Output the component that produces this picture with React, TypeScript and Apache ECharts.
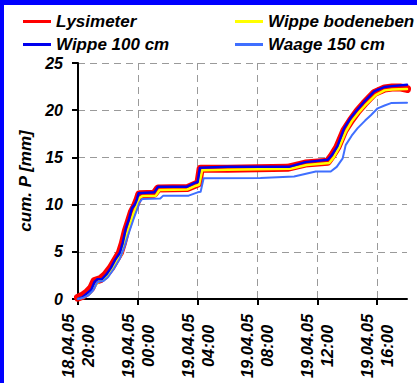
import React, { useEffect, useRef } from "react";
import * as echarts from "echarts";

// x values are hours since 18.04.05 20:00
const tickHours = [0, 4, 8, 12, 16, 20];
const tickDates = ["18.04.05", "19.04.05", "19.04.05", "19.04.05", "19.04.05", "19.04.05"];
const tickTimes = ["20:00", "00:00", "04:00", "08:00", "12:00", "16:00"];

const seriesNames = ["Lysimeter", "Wippe bodeneben", "Wippe 100 cm", "Waage 150 cm"];
const seriesColors = ["#ff0000", "#ffff00", "#0000ee", "#3f6fff"];

const lysHours = [0, 0.3, 0.6, 0.9, 1.1, 1.5, 1.8, 2.2, 2.5, 2.8, 3.0, 3.2, 3.4, 3.6, 3.8, 4.0, 4.1, 5.1, 5.35, 7.3, 7.9, 8.05, 8.2, 10, 12, 14, 15.2, 16.7, 17.0, 17.35, 17.8, 18.24, 18.7, 19.14, 19.8, 20.5, 21, 21.6, 22];
const lysVals = [0.15, 0.35, 0.7, 1.2, 1.9, 2.1, 2.5, 3.3, 4.1, 4.9, 5.9, 7.2, 8.2, 9.2, 9.8, 10.6, 11.1, 11.15, 11.7, 11.75, 12.15, 12.25, 13.8, 13.8, 13.85, 13.9, 14.35, 14.55, 15.2, 16.1, 17.8, 18.9, 19.9, 20.7, 21.8, 22.3, 22.4, 22.4, 22.25];

const wipBodHours = [0, 0.4, 0.8, 1.1, 1.4, 1.7, 2.0, 2.3, 2.6, 2.9, 3.1, 3.3, 3.5, 3.7, 3.9, 4.1, 4.3, 5.2, 5.45, 7.3, 7.9, 8.1, 8.3, 10, 14.2, 15.3, 16.8, 17.1, 17.45, 17.9, 18.3, 18.8, 19.2, 19.9, 20.5, 21, 22];
const wipBodVals = [0, 0.2, 0.6, 1.3, 1.9, 2.0, 2.5, 3.2, 4.0, 4.7, 5.8, 7.0, 8.0, 9.0, 9.8, 10.7, 10.9, 10.95, 11.55, 11.6, 12.0, 12.1, 13.65, 13.7, 13.8, 14.2, 14.4, 15.0, 16.0, 17.7, 18.8, 19.8, 20.5, 21.6, 22.1, 22.2, 22.25];

const wip100Hours = [0, 0.3, 0.6, 0.9, 1.1, 1.3, 1.6, 1.9, 2.2, 2.5, 2.8, 3.0, 3.2, 3.4, 3.6, 3.8, 3.95, 4.05, 5.1, 5.35, 7.3, 7.8, 8.0, 8.15, 10, 14.1, 15.2, 16.7, 17.0, 17.35, 17.8, 18.24, 18.7, 19.14, 19.5, 19.81, 20.1, 20.48, 21, 22];
const wip100Vals = [0, 0.2, 0.6, 1.0, 1.8, 2.1, 2.1, 2.6, 3.3, 4.2, 4.9, 6.0, 7.5, 8.4, 9.6, 10.0, 10.6, 11.2, 11.3, 11.9, 11.9, 12.3, 12.4, 13.9, 14.0, 14.0, 14.5, 14.75, 15.3, 16.2, 18.1, 19.2, 20.1, 20.9, 21.5, 22.0, 22.2, 22.45, 22.55, 22.7];

const waageHours = [0, 0.3, 0.7, 1.0, 1.3, 1.7, 2.0, 2.4, 2.8, 3.1, 3.4, 3.7, 3.95, 4.1, 4.3, 5.5, 5.7, 7.4, 8.0, 8.2, 8.4, 12.2, 14.45, 15.9, 16.9, 17.3, 17.7, 17.9, 18.3, 18.7, 19.2, 19.6, 20.04, 20.5, 20.93, 22];
const waageVals = [0, 0.1, 0.4, 0.9, 1.8, 1.9, 2.3, 3.2, 4.3, 5.5, 7.0, 8.4, 9.5, 10.2, 10.6, 10.65, 10.95, 10.95, 11.3, 11.35, 12.8, 12.82, 12.98, 13.5, 13.5, 14.0, 14.9, 16.3, 17.3, 18.1, 18.9, 19.5, 20.2, 20.5, 20.75, 20.8];

const pair = (xs: number[], ys: number[]) => xs.map((x, i) => [x, ys[i]]);

const FONT = "Arial, 'Liberation Sans', sans-serif";

export default function App() {
  const ref = useRef<HTMLDivElement>(null);
  useEffect(() => {
    document.body.style.margin = "0";
    if (!ref.current) return;
    const chart = echarts.init(ref.current, undefined, { renderer: "svg" });
    const dataSets = [
      pair(lysHours, lysVals),
      pair(wipBodHours, wipBodVals),
      pair(wip100Hours, wip100Vals),
      pair(waageHours, waageVals),
    ];
    const widths = [8, 2.5, 2.5, 2];
    const legendText = {
      fontSize: 17,
      fontWeight: "bold",
      fontStyle: "italic",
      fontFamily: FONT,
      color: "#000",
    };
    const legendCommon = {
      orient: "vertical",
      top: 13,
      padding: 0,
      itemGap: 6,
      itemWidth: 28,
      itemHeight: 3,
      icon: "rect",
      textStyle: legendText,
    };
    chart.setOption({
      animation: false,
      backgroundColor: "#ffffff",
      grid: { left: 78, right: 13, top: 63, bottom: 84 },
      legend: [
        { ...legendCommon, left: 23, data: [seriesNames[0], seriesNames[2]] },
        { ...legendCommon, left: 235, data: [seriesNames[1], seriesNames[3]] },
      ],
      xAxis: {
        type: "value",
        min: 0,
        max: 22,
        interval: 4,
        axisLine: { lineStyle: { color: "#000", width: 2 } },
        axisTick: {
          show: true,
          length: 6,
          lineStyle: { color: "#000", width: 2 },
          customValues: tickHours,
        },
        splitLine: {
          show: true,
          lineStyle: { color: "#9a9a9a", type: [7, 5], width: 1 },
        },
        axisLabel: {
          customValues: tickHours,
          rotate: 90,
          margin: 14,
          formatter: (v: number) => {
            const i = tickHours.indexOf(v);
            if (i < 0) return "";
            return `{a|${tickDates[i]}}\n{a|${tickTimes[i]}}`;
          },
          rich: {
            a: {
              width: 66,
              align: "center",
              fontSize: 16.5,
              fontWeight: "bold",
              fontStyle: "italic",
              fontFamily: FONT,
              color: "#000",
              lineHeight: 20,
            },
          },
        },
      },
      yAxis: {
        type: "value",
        min: 0,
        max: 25,
        interval: 5,
        name: "cum. P [mm]",
        nameLocation: "middle",
        nameGap: 40,
        nameTextStyle: {
          fontSize: 17,
          fontWeight: "bold",
          fontStyle: "italic",
          fontFamily: FONT,
          color: "#000",
        },
        axisLine: { show: true, lineStyle: { color: "#000", width: 2 } },
        axisTick: { show: true, length: 6, lineStyle: { color: "#000", width: 2 } },
        splitLine: {
          show: true,
          lineStyle: { color: "#9a9a9a", type: [7, 5], width: 1 },
        },
        axisLabel: {
          margin: 15,
          fontSize: 16,
          fontWeight: "bold",
          fontStyle: "italic",
          fontFamily: FONT,
          color: "#000",
        },
      },
      series: dataSets.map((d, i) => ({
        name: seriesNames[i],
        type: "line",
        data: d,
        color: seriesColors[i],
        showSymbol: false,
        symbol: "none",
        z: 2 + i,
        lineStyle: { color: seriesColors[i], width: widths[i], join: "round", cap: "round" },
      })),
      graphic: [
        { type: "rect", left: 0, top: 0, z: 100, shape: { width: 4, height: 383 }, style: { fill: "#0000ff" } },
        { type: "rect", left: 0, top: 0, z: 100, shape: { width: 417, height: 5 }, style: { fill: "#0000ff" } },
      ],
    });
    return () => chart.dispose();
  }, []);
  return <div ref={ref} style={{ width: 420, height: 383 }} />;
}
